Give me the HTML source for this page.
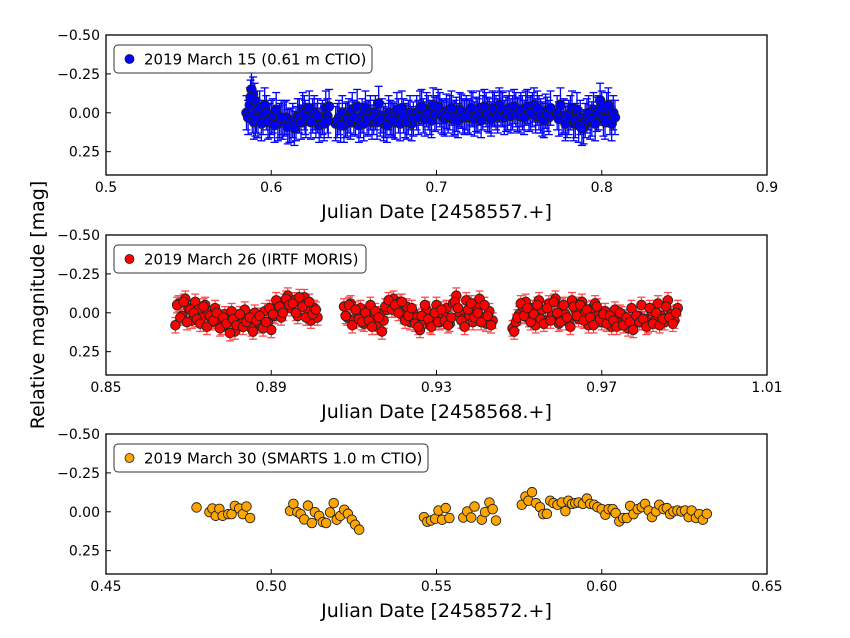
<!DOCTYPE html>
<html><head><meta charset="utf-8">
<style>
body{margin:0;background:#fff;}
svg{display:block;font-family:"DejaVu Sans","Liberation Sans",sans-serif;}
</style></head>
<body>
<svg id="chart" width="850" height="638" viewBox="0 0 850 638">
<text x="44" y="305" font-size="19" text-anchor="middle" transform="rotate(-90 44 305)">Relative magnitude [mag]</text>
</svg>
<script>
// ---- Panel 1: 2019 March 15 (0.61 m CTIO) ----
const p1Dates = [0.585,0.587,0.588,0.589,0.590,0.591,0.592,0.593,0.595,0.596,0.597,0.599,0.600,0.601,0.603,0.604,0.605,0.607,0.608,0.609,0.611,0.612,0.613,0.615,0.616,0.617,0.619,0.620,0.621,
0.623,0.625,0.626,0.627,0.629,0.630,0.631,0.633,0.634,0.635,
0.639,0.641,0.643,0.644,0.645,0.647,0.649,0.651,0.652,0.653,0.655,0.657,0.659,0.660,0.661,0.663,0.665,0.667,0.668,0.669,0.671,0.673,0.675,0.676,0.677,0.679,0.681,0.683,0.684,0.685,
0.688,0.690,0.692,0.694,0.696,0.698,0.700,0.702,0.704,0.706,0.708,0.710,0.712,0.714,0.716,0.718,0.720,0.722,0.724,0.726,0.728,0.730,0.732,0.734,0.736,0.738,0.740,0.742,0.744,0.746,0.748,0.750,0.752,0.754,0.756,0.758,0.760,0.762,0.764,0.766,0.768,
0.773,0.775,0.776,0.777,0.779,0.781,0.782,0.783,0.785,0.787,0.789,0.790,0.791,0.793,0.795,0.797,0.798,0.799,0.801,0.803,0.805,0.806,0.807,
0.586,0.5875,0.5885,0.5895,0.5905,0.594,0.598,0.602,0.606,0.610,0.614,0.618,0.6205,
0.624,0.628,0.632,0.6345,
0.640,0.642,0.646,0.648,0.650,0.654,0.656,0.658,0.662,0.664,0.666,0.670,0.672,0.674,0.678,0.680,0.682,0.686,
0.689,0.691,0.693,0.695,0.697,0.699,0.701,0.703,0.705,0.707,0.709,0.711,0.713,0.715,0.717,0.719,0.721,0.723,0.725,0.727,0.729,0.731,0.733,0.735,0.737,0.739,0.741,0.743,0.745,0.747,0.749,0.751,0.753,0.755,0.757,0.759,0.761,0.763,0.765,0.767,0.769,
0.774,0.778,0.780,0.784,0.786,0.788,0.792,0.794,0.796,0.800,0.802,0.804,0.808];
const p1Mags = [0.0,-0.05,-0.15,-0.12,-0.08,0.02,0.05,-0.03,0.03,-0.05,0.0,0.05,0.03,0.02,-0.02,0.07,0.05,0.06,0.04,0.03,0.08,0.08,0.05,0.07,0.02,0.02,-0.02,0.0,0.05,
-0.03,0.02,0.0,0.05,0.08,0.05,0.03,-0.03,0.02,-0.04,
0.07,0.03,0.0,0.08,0.05,0.02,-0.02,0.04,-0.04,0.08,0.02,-0.03,0.03,0.0,0.06,0.0,-0.06,0.02,0.07,0.05,0.0,0.04,0.06,-0.02,0.02,-0.03,0.05,0.03,0.0,0.07,
0.0,-0.03,0.02,-0.02,0.03,-0.05,0.0,-0.02,0.03,-0.01,0.0,0.04,0.01,-0.02,0.02,0.0,0.03,-0.02,0.01,-0.03,0.0,-0.02,0.02,-0.03,0.0,-0.05,-0.02,0.01,-0.03,0.0,-0.02,0.02,0.0,-0.03,0.01,-0.02,0.02,0.0,0.04,-0.01,0.03,
0.0,-0.05,0.03,0.02,0.05,0.0,-0.03,0.07,-0.02,0.03,0.09,0.05,0.02,0.06,-0.02,0.01,0.0,-0.08,0.04,-0.02,0.03,0.07,0.0,
0.03,-0.10,0.02,0.06,0.04,0.07,0.06,0.08,0.03,0.09,0.10,0.06,0.03,
0.06,0.02,0.07,0.05,
0.05,0.08,0.04,0.06,0.03,0.05,0.07,0.04,0.03,0.06,0.04,0.08,0.03,0.05,0.07,0.02,0.06,0.04,
0.03,-0.04,0.04,0.0,0.05,0.01,-0.04,0.02,0.04,0.02,-0.03,0.03,0.05,-0.01,0.03,0.02,-0.03,0.04,0.02,0.05,-0.04,0.01,0.04,-0.02,0.02,-0.03,0.03,0.0,0.02,-0.04,0.01,-0.02,0.03,-0.04,0.0,-0.05,-0.03,0.02,0.05,0.01,-0.03,
0.04,0.07,0.03,0.05,0.08,0.10,0.0,0.04,0.07,-0.03,0.06,-0.05,0.03];
const p1Err = 0.11;
const p1Ticks = [0.5,0.6,0.7,0.8,0.9];
const p1TickLabels = ["0.5","0.6","0.7","0.8","0.9"];

// ---- Panel 2: 2019 March 26 (IRTF MORIS) ----
const p2Dates = [0.8668,0.8676,0.8684,0.8692,0.8700,0.8708,0.8716,0.8724,0.8732,0.8740,0.8748,0.8756,0.8764,0.8772,0.8780,0.8788,0.8796,0.8804,0.8812,0.8820,0.8828,0.8836,0.8844,0.8852,0.8860,0.8868,0.8876,0.8884,0.8892,0.8900,0.8908,0.8916,0.8924,0.8932,0.8940,0.8948,0.8956,0.8964,0.8972,0.8980,0.8988,0.8996,0.9004,0.9012,
0.9076,0.9084,0.9092,0.9100,0.9108,0.9116,0.9124,0.9132,0.9140,0.9148,0.9156,0.9164,0.9172,0.9180,0.9188,0.9196,0.9204,0.9212,0.9220,0.9228,0.9236,0.9244,0.9252,0.9260,0.9268,0.9276,0.9284,0.9292,0.9300,0.9308,0.9316,0.9324,0.9332,0.9340,0.9348,0.9356,0.9364,0.9372,0.9380,0.9388,0.9396,0.9404,0.9412,0.9420,0.9428,0.9436,
0.9484,0.9492,0.9500,0.9508,0.9516,0.9524,0.9532,0.9540,0.9548,0.9556,0.9564,0.9572,0.9580,0.9588,0.9596,0.9604,0.9612,0.9620,0.9628,0.9636,0.9644,0.9652,0.9660,0.9668,0.9676,0.9684,0.9692,0.9700,0.9708,0.9716,0.9724,0.9732,0.9740,0.9748,0.9756,0.9764,0.9772,0.9780,0.9788,0.9796,0.9804,0.9812,0.9820,0.9828,0.9836,0.9844,0.9852,0.9860,0.9868,0.9876,0.9884,
0.8672,0.8680,0.8688,0.8696,0.8704,0.8712,0.8720,0.8728,0.8736,0.8744,0.8752,0.8760,0.8768,0.8776,0.8784,0.8792,0.8800,0.8808,0.8816,0.8824,0.8832,0.8840,0.8848,0.8856,0.8864,0.8872,0.8880,0.8888,0.8896,0.8904,0.8912,0.8920,0.8928,0.8936,0.8944,0.8952,0.8960,0.8968,0.8976,0.8984,0.8992,0.9000,0.9008,
0.9080,0.9088,0.9096,0.9104,0.9112,0.9120,0.9128,0.9136,0.9144,0.9152,0.9160,0.9168,0.9176,0.9184,0.9192,0.9200,0.9208,0.9216,0.9224,0.9232,0.9240,0.9248,0.9256,0.9264,0.9272,0.9280,0.9288,0.9296,0.9304,0.9312,0.9320,0.9328,0.9336,0.9344,0.9352,0.9360,0.9368,0.9376,0.9384,0.9392,0.9400,0.9408,0.9416,0.9424,0.9432,
0.9488,0.9496,0.9504,0.9512,0.9520,0.9528,0.9536,0.9544,0.9552,0.9560,0.9568,0.9576,0.9584,0.9592,0.9600,0.9608,0.9616,0.9624,0.9632,0.9640,0.9648,0.9656,0.9664,0.9672,0.9680,0.9688,0.9696,0.9704,0.9712,0.9720,0.9728,0.9736,0.9744,0.9752,0.9760,0.9768,0.9776,0.9784,0.9792,0.9800,0.9808,0.9816,0.9824,0.9832,0.9840,0.9848,0.9856,0.9864,0.9872,0.9880];
const p2Mags = [0.08,-0.06,0.02,-0.09,-0.03,0.05,-0.07,-0.02,0.03,-0.05,0.01,0.06,-0.03,0.04,0.09,0.01,0.06,-0.01,0.12,0.03,0.07,-0.02,0.05,0.10,0.0,0.04,0.08,-0.01,0.06,0.11,0.02,-0.05,0.03,-0.07,-0.11,-0.03,-0.08,0.02,-0.06,-0.10,-0.02,0.05,-0.03,0.03,
-0.04,0.03,-0.06,0.05,0.0,-0.03,0.07,0.02,-0.05,0.04,0.09,0.01,0.05,-0.02,-0.06,-0.09,-0.03,-0.07,0.02,-0.04,0.06,0.0,0.03,0.11,0.05,-0.02,0.08,0.03,-0.05,0.06,0.01,-0.03,0.07,-0.06,-0.11,0.0,0.04,-0.08,0.02,0.06,-0.04,-0.09,0.03,0.07,-0.01,0.05,
0.10,0.06,0.01,-0.04,-0.07,0.04,-0.03,0.08,-0.08,-0.02,0.05,-0.06,0.02,-0.09,0.07,-0.04,0.01,0.06,-0.08,-0.02,0.04,-0.07,0.0,0.08,-0.03,-0.06,0.02,0.06,-0.01,0.04,0.09,-0.02,0.06,0.01,0.05,0.10,-0.03,0.07,0.02,-0.05,0.04,0.08,-0.01,0.05,-0.06,0.02,0.06,-0.08,0.01,0.05,-0.03,
-0.05,0.03,-0.07,0.06,-0.02,0.0,0.04,0.07,-0.04,0.09,0.02,0.05,0.0,0.10,0.03,0.07,0.13,0.04,0.08,0.01,0.09,0.06,0.03,0.12,0.05,0.02,0.10,0.06,-0.03,0.01,-0.08,-0.04,0.0,-0.09,-0.05,-0.06,0.0,-0.10,-0.04,0.03,-0.07,0.01,-0.02,
0.02,-0.05,0.08,-0.02,0.04,0.06,0.0,0.05,0.09,-0.01,0.03,0.12,-0.04,-0.08,-0.02,-0.05,0.0,-0.07,0.05,0.02,-0.03,0.07,0.09,0.02,-0.05,0.04,0.09,0.0,0.06,-0.02,0.05,0.08,0.03,-0.07,-0.03,0.05,0.09,-0.02,-0.06,0.03,0.0,0.06,-0.05,0.02,0.08,
0.12,0.03,-0.06,0.02,-0.03,0.06,0.01,-0.05,0.04,0.07,-0.03,0.05,-0.07,0.0,0.06,-0.05,0.03,0.09,-0.04,0.02,-0.05,0.05,-0.02,0.03,0.08,-0.04,0.04,0.01,0.07,0.02,0.05,0.09,0.0,0.08,0.03,0.06,0.11,0.02,0.06,0.04,0.09,-0.03,0.07,0.0,0.08,0.04,-0.04,0.03,0.07,0.0];
const p2Err = 0.05;
const p2Ticks = [0.85,0.89,0.93,0.97,1.01];
const p2TickLabels = ["0.85","0.89","0.93","0.97","1.01"];

// ---- Panel 3: 2019 March 30 (SMARTS 1.0 m CTIO) ----
const p3Dates = [0.4774,0.4813,0.4822,0.4832,0.4843,0.4853,0.4870,0.4880,0.4890,0.4903,0.4914,0.4925,0.4936,
0.5057,0.5067,0.5079,0.5089,0.5100,0.5111,0.5123,0.5132,0.5145,0.5156,0.5166,0.5178,0.5189,0.5198,0.5209,0.5221,0.5232,0.5244,0.5254,0.5266,
0.5462,0.5472,0.5483,0.5496,0.5506,0.5517,0.5528,0.5539,0.5581,0.5593,0.5605,0.5615,0.5637,0.5647,0.5660,0.5670,0.5680,
0.5758,0.5769,0.5778,0.5789,0.5801,0.5813,0.5823,0.5834,0.5844,0.5854,0.5866,0.5879,0.5890,0.5899,0.5910,0.5920,0.5930,0.5943,0.5955,0.5965,0.5977,0.5987,0.6000,0.6011,0.6021,0.6033,0.6042,0.6053,0.6065,0.6076,0.6086,0.6096,0.6109,0.6121,0.6131,0.6142,0.6152,0.6164,0.6174,0.6187,0.6197,0.6207,0.6217,0.6229,0.6241,0.6252,0.6263,0.6272,0.6285,0.6295,0.6306,0.6318];
const p3Mags = [-0.028,0.002,-0.021,0.026,-0.019,0.026,0.015,0.015,-0.038,-0.021,0.015,-0.034,0.040,
-0.006,-0.051,0.002,0.015,0.049,-0.040,0.072,0.002,0.026,0.066,0.072,0.004,-0.056,0.051,0.026,-0.013,0.013,0.051,0.083,0.115,
0.034,0.064,0.056,0.045,-0.008,0.051,-0.024,0.040,0.037,-0.002,0.037,-0.034,0.051,0.002,-0.060,-0.017,0.056,
-0.045,-0.098,-0.071,-0.126,-0.056,-0.030,0.015,0.013,-0.071,-0.056,-0.045,-0.060,-0.004,-0.071,-0.051,-0.056,-0.060,-0.051,-0.085,-0.051,-0.045,-0.030,-0.017,0.019,-0.017,-0.017,0.008,0.062,0.040,0.040,-0.038,0.015,-0.017,-0.030,-0.051,-0.008,0.034,-0.002,-0.045,-0.017,-0.024,0.015,-0.002,-0.008,-0.002,-0.008,0.034,-0.008,0.040,0.015,0.051,0.013];
const p3Ticks = [0.45,0.50,0.55,0.60,0.65];
const p3TickLabels = ["0.45","0.50","0.55","0.60","0.65"];

const yTicks = [-0.5,-0.25,0,0.25];
const yTickLabels = ["\u22120.50","\u22120.25","0.00","0.25"];

const NS = "http://www.w3.org/2000/svg";
const svg = document.getElementById('chart');
function mk(tag, attrs, parent){const e=document.createElementNS(NS,tag);for(const k in attrs)e.setAttribute(k,attrs[k]);(parent||svg).appendChild(e);return e;}

const panels = [
 {top:35, xmin:0.5, xmax:0.9, dates:p1Dates, mags:p1Mags, err:p1Err, ticks:p1Ticks, labels:p1TickLabels, fill:"#0000ff", ecol:"#0000ff", eop:1, xlabel:"Julian Date [2458557.+]", legend:"2019 March 15 (0.61 m CTIO)", lw:258, key:"march-15"},
 {top:235, xmin:0.85, xmax:1.01, dates:p2Dates, mags:p2Mags, err:p2Err, ticks:p2Ticks, labels:p2TickLabels, fill:"#ff0000", ecol:"#ff2020", eop:0.8, xlabel:"Julian Date [2458568.+]", legend:"2019 March 26 (IRTF MORIS)", lw:252, key:"march-26"},
 {top:434, xmin:0.45, xmax:0.65, dates:p3Dates, mags:p3Mags, err:0, ticks:p3Ticks, labels:p3TickLabels, fill:"#ffa500", ecol:"#ffa500", eop:1, xlabel:"Julian Date [2458572.+]", legend:"2019 March 30 (SMARTS 1.0 m CTIO)", lw:314, key:"march-30"}
];
const L=106, R=767, H=140, YMIN=-0.5, YMAX=0.4;

panels.forEach(p=>{
  const g = mk('g',{});
  
  
  const xs = v => L + (v-p.xmin)/(p.xmax-p.xmin)*(R-L);
  const ys = v => p.top + (v-YMIN)/(YMAX-YMIN)*H;
  if(p.err>0){
    const eg = mk('g',{stroke:p.ecol,'stroke-width':1.3,opacity:p.eop},g);
    
    
    p.dates.forEach((d,i)=>{
      const x=xs(d), y1=ys(p.mags[i]-p.err), y2=ys(p.mags[i]+p.err);
      mk('line',{x1:x,x2:x,y1:y1,y2:y2},eg);
      mk('line',{x1:x-4,x2:x+4,y1:y1,y2:y1},eg);
      mk('line',{x1:x-4,x2:x+4,y1:y2,y2:y2},eg);
    });
  }
  const pg = mk('g',{},g);
  
  
  p.dates.forEach((d,i)=>{
    const c = mk('circle',{cx:xs(d),cy:ys(p.mags[i]),r:4.8,fill:p.fill,stroke:'#222','stroke-width':0.9},pg);
    
    
  });
  const fr = mk('rect',{x:L,y:p.top,width:R-L,height:H,fill:'none',stroke:'#000','stroke-width':1.3},g);
  
  
  p.ticks.forEach((t,i)=>{
    const x=xs(t);
    mk('line',{x1:x,x2:x,y1:p.top+H,y2:p.top+H-5,stroke:'#000','stroke-width':1},g);
    const tl = mk('text',{x:x,y:p.top+H+17,'font-size':14,'text-anchor':'middle'},g);
    tl.textContent = p.labels[i];
    
    
  });
  yTicks.forEach((t,i)=>{
    const y=ys(t);
    mk('line',{x1:L,x2:L+5,y1:y,y2:y,stroke:'#000','stroke-width':1},g);
    const tl = mk('text',{x:L-6,y:y+5,'font-size':14,'text-anchor':'end'},g);
    tl.textContent = yTickLabels[i];
    
    
  });
  const xl = mk('text',{x:(L+R)/2,y:p.top+H+43,'font-size':19,'text-anchor':'middle'},g);
  xl.textContent = p.xlabel;
  
  
  const lg = mk('g',{},g);
  
  
  mk('rect',{x:114,y:p.top+10,width:p.lw,height:28,rx:4,fill:'#fff','fill-opacity':0.85,stroke:'#333','stroke-width':1},lg);
  mk('circle',{cx:129.5,cy:p.top+24,r:4.5,fill:p.fill,stroke:'#222','stroke-width':0.8},lg);
  const lt = mk('text',{x:144,y:p.top+29.5,'font-size':15},lg);
  lt.textContent = p.legend;
  
  
});
</script>
</body></html>
